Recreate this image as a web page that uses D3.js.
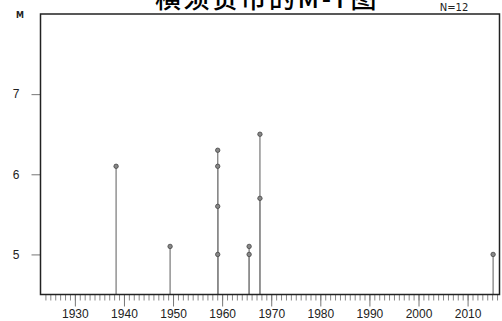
<!DOCTYPE html>
<html>
<head>
<meta charset="utf-8">
<script src="https://cdnjs.cloudflare.com/ajax/libs/d3/7.8.5/d3.min.js"></script>
<style>
  body { margin: 0; background: #fff; }
  svg { display: block; font-family: "DejaVu Sans", sans-serif; }
  .title { font-family: "Noto Sans CJK SC", sans-serif; font-size: 26px; font-weight: 500; }
  .tick text { fill: #222; }
</style>
</head>
<body>
<script>
// Earthquakes: year (fractional) and magnitude
var years = [1938.4, 1949.4, 1959.1, 1959.1, 1959.1, 1959.1, 1965.5, 1965.5, 1967.7, 1967.7, 2015.2];
var mags  = [6.1,    5.1,    6.3,    6.1,    5.6,    5.0,    5.1,    5.0,    6.5,    5.7,    5.0];
var yTicks = [5, 6, 7];
var xTicks = [1930, 1940, 1950, 1960, 1970, 1980, 1990, 2000, 2010];
var titleText = "横须贺市的M-T图";
var countText = "N=12";

var W = 502, H = 321;
var margin = {top: 14, right: 2, bottom: 26.5, left: 40.5};

var svg = d3.select("body").append("svg")
    .attr("width", W)
    .attr("height", H);

var x = d3.scaleLinear().domain([1923, 2016.5]).range([margin.left, W - margin.right - 0.5]);
var y = d3.scaleLinear().domain([4.5, 8]).range([H - margin.bottom, margin.top]);

var data = years.map(function(d, i) { return {year: d, m: mags[i]}; });

// Title (the top of it runs off the picture, as in the original)
svg.append("text")
    .attr("class", "title")
    .attr("x", 267)
    .attr("y", 8)
    .attr("text-anchor", "middle")
    .attr("letter-spacing", "2.5px")
    .text(titleText);

svg.append("text")
    .attr("x", 454)
    .attr("y", 11)
    .attr("text-anchor", "middle")
    .attr("font-size", 10)
    .attr("fill", "#222")
    .text(countText);

svg.append("text")
    .attr("x", 20)
    .attr("y", 18)
    .attr("text-anchor", "middle")
    .attr("font-size", 8)
    .attr("font-weight", "bold")
    .attr("fill", "#222")
    .text("M");

// Stems
svg.selectAll(".stem")
    .data(data)
  .enter().append("line")
    .attr("class", "stem")
    .attr("x1", function(d) { return x(d.year); })
    .attr("x2", function(d) { return x(d.year); })
    .attr("y1", y(4.5))
    .attr("y2", function(d) { return y(d.m); })
    .attr("stroke", "#8a8a8a")
    .attr("stroke-width", 1.4);

// Points
svg.selectAll(".pt")
    .data(data)
  .enter().append("circle")
    .attr("class", "pt")
    .attr("cx", function(d) { return x(d.year); })
    .attr("cy", function(d) { return y(d.m); })
    .attr("r", 2.2)
    .attr("fill", "#888")
    .attr("stroke", "#444")
    .attr("stroke-width", 0.8);

// Minor year ticks
svg.append("g")
    .attr("transform", "translate(0," + y(4.5) + ")")
    .call(d3.axisBottom(x).tickValues(d3.range(1924, 2017)).tickSize(6).tickFormat(""))
    .call(function(g) { g.select(".domain").remove(); })
    .call(function(g) { g.selectAll(".tick line").attr("stroke", "#888"); });

// Major decade ticks
svg.append("g")
    .attr("transform", "translate(0," + y(4.5) + ")")
    .call(d3.axisBottom(x).tickValues(xTicks).tickSize(12).tickPadding(2.5).tickFormat(d3.format("d")))
    .call(function(g) { g.select(".domain").remove(); })
    .call(function(g) { g.selectAll(".tick line").attr("stroke", "#777"); })
    .call(function(g) { g.selectAll(".tick text").attr("font-size", 12); });

// Y axis ticks
svg.append("g")
    .attr("transform", "translate(" + margin.left + ",0)")
    .call(d3.axisLeft(y).tickValues(yTicks).tickSize(9).tickPadding(12).tickFormat(d3.format("d")))
    .call(function(g) { g.select(".domain").remove(); })
    .call(function(g) { g.selectAll(".tick line").attr("stroke", "#777"); })
    .call(function(g) { g.selectAll(".tick text").attr("font-size", 12); });

// Frame
svg.append("rect")
    .attr("x", x.range()[0])
    .attr("y", y.range()[1])
    .attr("width", x.range()[1] - x.range()[0])
    .attr("height", y.range()[0] - y.range()[1])
    .attr("fill", "none")
    .attr("stroke", "#222")
    .attr("stroke-width", 1.5);
</script>
</body>
</html>
